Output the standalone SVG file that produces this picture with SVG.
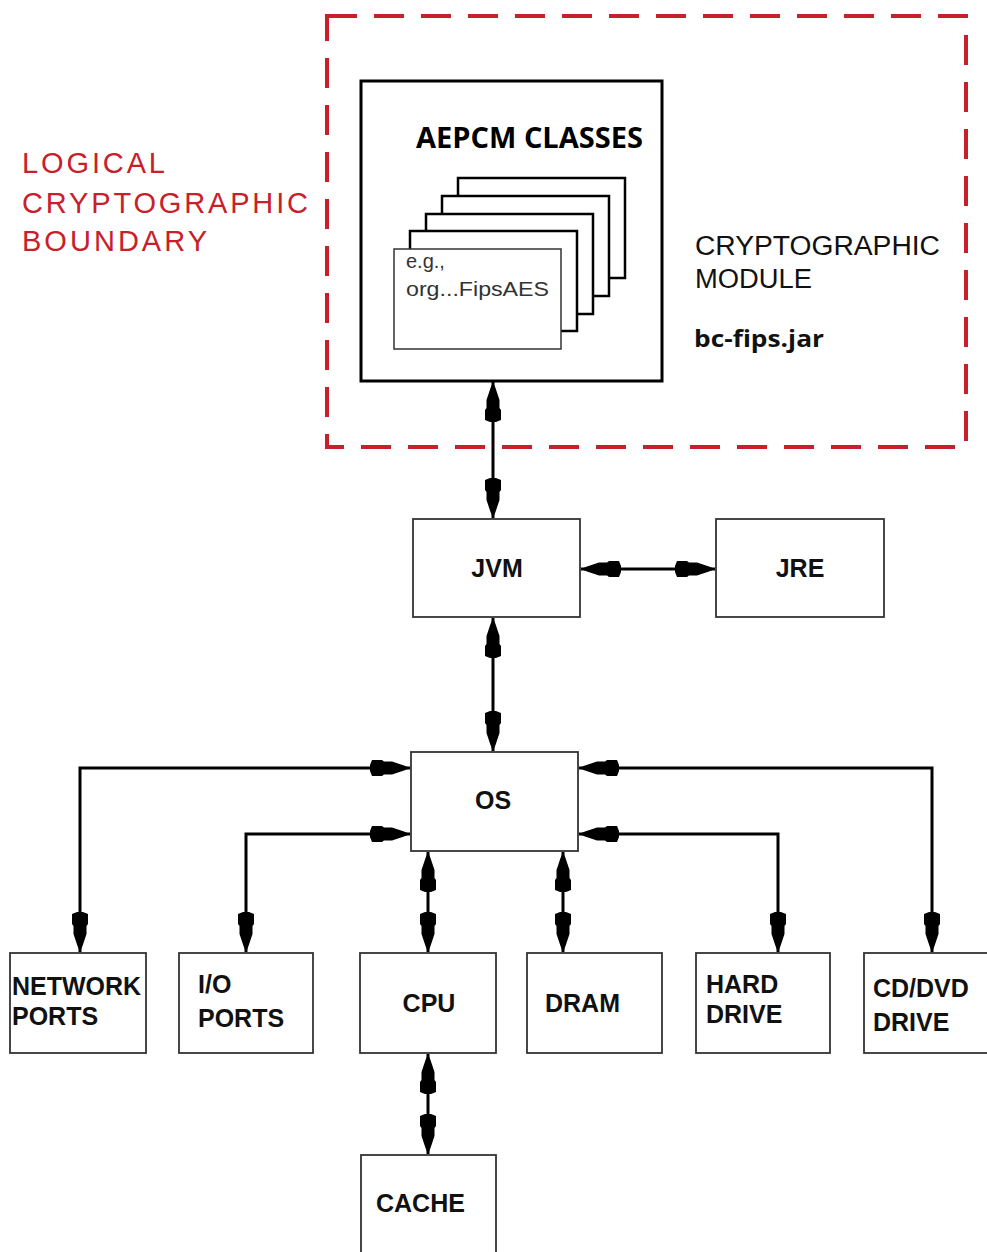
<svg xmlns="http://www.w3.org/2000/svg" width="987" height="1252" viewBox="0 0 987 1252">
<style>
.box{fill:#fff;stroke:#333;stroke-width:1.8}
.card{fill:#fff;stroke:#000;stroke-width:2.5}
.lbl{font-family:"Liberation Sans",Arial,sans-serif;font-weight:bold;font-size:25px;fill:#111}
.red{font-family:"Liberation Sans",Arial,sans-serif;font-size:29px;fill:#c8202a}
.conn{fill:none;stroke:#000;stroke-width:3}
</style>
<defs>
<marker id="ah" viewBox="-42 -9 44 18" refX="0" refY="0" markerWidth="44" markerHeight="18" markerUnits="userSpaceOnUse" orient="auto-start-reverse">
<path d="M0,0 L-6,-2.5 L-18,-6.5 L-26,-6.5 L-28,-8 L-38,-8 L-40,-3 L-40,3 L-38,8 L-28,8 L-26,6.5 L-18,6.5 L-6,2.5 Z" fill="#000"/>
</marker>
</defs>
<g id="boundary">
<rect x="327" y="16" width="639" height="431" fill="none" stroke="#c8202a" stroke-width="4" stroke-dasharray="30,17"/>
<text class="red" x="22" y="173" textLength="143">LOGICAL</text>
<text class="red" x="22" y="213" textLength="286">CRYPTOGRAPHIC</text>
<text class="red" x="22" y="251" textLength="185">BOUNDARY</text>
</g>
<g id="module-label">
<text x="695" y="255" font-family="Liberation Sans,Arial,sans-serif" font-size="27" fill="#111" textLength="245" lengthAdjust="spacingAndGlyphs">CRYPTOGRAPHIC</text>
<text x="695" y="288" font-family="Liberation Sans,Arial,sans-serif" font-size="27" fill="#111" textLength="117" lengthAdjust="spacingAndGlyphs">MODULE</text>
<text x="694" y="347" font-family="Open Sans,Liberation Sans,sans-serif" font-weight="bold" font-size="23" fill="#111" textLength="130" lengthAdjust="spacingAndGlyphs">bc-fips.jar</text>
</g>
<g id="aepcm">
<rect x="361" y="81" width="301" height="300" fill="#fff" stroke="#000" stroke-width="3"/>
<text x="416" y="148" font-family="Open Sans,Liberation Sans,sans-serif" font-weight="bold" font-size="29" fill="#000" textLength="227" lengthAdjust="spacingAndGlyphs">AEPCM CLASSES</text>
<rect class="card" x="458" y="178" width="167" height="100"/>
<rect class="card" x="442" y="196" width="167" height="100"/>
<rect class="card" x="426" y="214" width="167" height="100"/>
<rect class="card" x="410" y="231" width="167" height="100"/>
<rect x="394" y="249" width="167" height="100" fill="#fff" stroke="#333" stroke-width="1.5"/>
<text x="406" y="268" font-family="Liberation Sans,Arial,sans-serif" font-size="20" fill="#333">e.g.,</text>
<text x="406" y="296" font-family="Liberation Sans,Arial,sans-serif" font-size="20" fill="#333" textLength="143" lengthAdjust="spacingAndGlyphs">org...FipsAES</text>
</g>
<g id="jvm"><rect class="box" x="413" y="519" width="167" height="98"/><text class="lbl" x="497" y="577" text-anchor="middle">JVM</text></g>
<g id="jre"><rect class="box" x="716" y="519" width="168" height="98"/><text class="lbl" x="800" y="577" text-anchor="middle">JRE</text></g>
<g id="os"><rect class="box" x="411" y="752" width="167" height="99"/><text class="lbl" x="493" y="809" text-anchor="middle">OS</text></g>
<g id="network"><rect class="box" x="10" y="953" width="136" height="100"/><text class="lbl" x="12" y="995" textLength="129" lengthAdjust="spacingAndGlyphs">NETWORK</text><text class="lbl" x="12" y="1025">PORTS</text></g>
<g id="io"><rect class="box" x="179" y="953" width="134" height="100"/><text class="lbl" x="198" y="993">I/O</text><text class="lbl" x="198" y="1027">PORTS</text></g>
<g id="cpu"><rect class="box" x="360" y="953" width="136" height="100"/><text class="lbl" x="429" y="1012" text-anchor="middle">CPU</text></g>
<g id="dram"><rect class="box" x="527" y="953" width="135" height="100"/><text class="lbl" x="545" y="1012">DRAM</text></g>
<g id="hdd"><rect class="box" x="696" y="953" width="134" height="100"/><text class="lbl" x="706" y="993">HARD</text><text class="lbl" x="706" y="1023">DRIVE</text></g>
<g id="cddvd"><rect class="box" x="864" y="953" width="130" height="100"/><text class="lbl" x="873" y="997">CD/DVD</text><text class="lbl" x="873" y="1031">DRIVE</text></g>
<g id="cache"><rect class="box" x="361" y="1155" width="135" height="105"/><text class="lbl" x="376" y="1212">CACHE</text></g>
<g id="connectors">
<path class="conn" d="M493,382 L493,518" marker-start="url(#ah)" marker-end="url(#ah)"/>
<path class="conn" d="M581,569 L715,569" marker-start="url(#ah)" marker-end="url(#ah)"/>
<path class="conn" d="M493,618 L493,751" marker-start="url(#ah)" marker-end="url(#ah)"/>
<path class="conn" d="M410,768 L80,768 L80,952" marker-start="url(#ah)" marker-end="url(#ah)"/>
<path class="conn" d="M410,834 L246,834 L246,952" marker-start="url(#ah)" marker-end="url(#ah)"/>
<path class="conn" d="M579,768 L932,768 L932,952" marker-start="url(#ah)" marker-end="url(#ah)"/>
<path class="conn" d="M579,834 L778,834 L778,952" marker-start="url(#ah)" marker-end="url(#ah)"/>
<path class="conn" d="M428,852 L428,952" marker-start="url(#ah)" marker-end="url(#ah)"/>
<path class="conn" d="M563,852 L563,952" marker-start="url(#ah)" marker-end="url(#ah)"/>
<path class="conn" d="M428,1054 L428,1154" marker-start="url(#ah)" marker-end="url(#ah)"/>
</g>
</svg>
